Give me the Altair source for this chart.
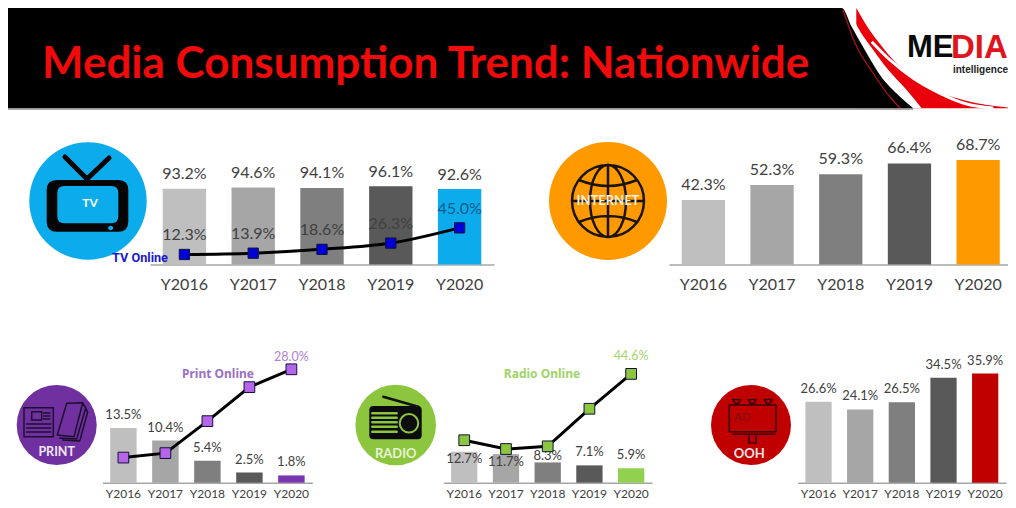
import re
import altair as alt
import pandas as pd

years = ["Y2016", "Y2017", "Y2018", "Y2019", "Y2020"]
greys = ["#BFBFBF", "#A6A6A6", "#7F7F7F", "#595959"]

tv_bar = [93.2, 94.6, 94.1, 96.1, 92.6]
tv_online = [12.3, 13.9, 18.6, 26.3, 45.0]
internet_bar = [42.3, 52.3, 59.3, 66.4, 68.7]
print_bar = [13.5, 10.4, 5.4, 2.5, 1.8]
print_online = [6.2, 7.3, 15.2, 23.6, 28.0]
radio_bar = [12.7, 11.7, 8.3, 7.1, 5.9]
radio_online = [17.4, 13.8, 14.9, 30.3, 44.6]
ooh_bar = [26.6, 24.1, 26.5, 34.5, 35.9]

# header artwork outline
edge_x = [0, 833.7, 843.7, 858.7, 872, 892, 905.3]
edge_y = [0, 0, 18.7, 45.3, 67, 88.7, 100.3]
gap_x = [840.3, 850.3, 865.3, 878.7, 898.7, 913.7]
gap_y = [0, 20.3, 42, 60, 82, 100.3]
red_x = [848.3, 860.3, 872, 887, 915.3, 955.3, 1007]
red_y = [0, 20.3, 36, 54, 77, 92, 100.3]
stripe_x = [863.7, 882, 905.3, 932, 958.7, 985.3]
stripe_y = [33.7, 52, 70.3, 85.3, 96, 100]
thin_x = [835, 847, 865, 882, 892]
thin_y = [2, 35, 65, 89, 100]

FONT = "Lato"
TXT = "#404040"
W, H = 1000, 492
O = (8, 8)


def scale_path(s):
    return re.sub(r"-?\d+\.?\d*", lambda m: f"{float(m.group()) / 50:.4f}", s)


def ellipse(cx, cy, rx, ry):
    kx, ky = rx * 0.5523, ry * 0.5523
    return (f"M {cx - rx} {cy} C {cx - rx} {cy - ky} {cx - kx} {cy - ry} {cx} {cy - ry} "
            f"C {cx + kx} {cy - ry} {cx + rx} {cy - ky} {cx + rx} {cy} "
            f"C {cx + rx} {cy + ky} {cx + kx} {cy + ry} {cx} {cy + ry} "
            f"C {cx - kx} {cy + ry} {cx - rx} {cy + ky} {cx - rx} {cy} Z ")


def rrect(x0, y0, x1, y1, r):
    return (f"M {x0 + r} {y0} L {x1 - r} {y0} Q {x1} {y0} {x1} {y0 + r} L {x1} {y1 - r} "
            f"Q {x1} {y1} {x1 - r} {y1} L {x0 + r} {y1} Q {x0} {y1} {x0} {y1 - r} "
            f"L {x0} {y0 + r} Q {x0} {y0} {x0 + r} {y0} Z ")


one = pd.DataFrame({"a": [1]})


def sym(path, c, fill=None, stroke=None, sw=2):
    kw = dict(shape=scale_path(path), size=10000, opacity=1)
    if fill:
        kw.update(filled=True, fill=fill)
    else:
        kw.update(filled=False, stroke=stroke, strokeWidth=sw, strokeCap="round", strokeJoin="round")
    return alt.Chart(one).mark_point(**kw).encode(x=alt.value(c[0] - O[0]), y=alt.value(c[1] - O[1]))


def disc(c, r, color):
    return alt.Chart(one).mark_circle(size=4 * r * r, color=color, opacity=1).encode(
        x=alt.value(c[0] - O[0]), y=alt.value(c[1] - O[1]))


def txt(s, x, y, size, color, weight="normal", font=FONT, align="center"):
    return alt.Chart(pd.DataFrame({"t": [s]})).mark_text(
        fontSize=size, color=color, fontWeight=weight, font=font, align=align, baseline="middle"
    ).encode(text="t:N", x=alt.value(x - O[0]), y=alt.value(y - O[1]))


def pct(vals):
    return [f"{v:.1f}%" for v in vals]


def panel(bar, accent, x0, x1, base_y, ppu, tick_size, tick_pad, lab_size, extra=(), behind=(), online=None,
          marker=None, msize=110, interp="linear", bar_labels=None, online_labels=()):
    df = pd.DataFrame({"year": years, "bar": bar, "lab": pct(bar)})
    if online is not None:
        df["online"] = online
        df["olab"] = pct(online)
    b = base_y - O[1]
    x = alt.X("year:N", sort=years, title=None,
              scale=alt.Scale(range=[x0 - O[0], x1 - O[0]], paddingInner=0.37, paddingOuter=0.185),
              axis=alt.Axis(orient="bottom", offset=b - H, labelAngle=0, labelFont=FONT, labelFontSize=tick_size,
                            labelColor=TXT, labelPadding=tick_pad, labelBaseline="middle", ticks=False,
                            grid=False, domainColor="#A6A6A6", domainWidth=1.6))
    yscale = alt.Scale(domain=[0, 100], range=[b, b - 100 * ppu], nice=False)
    ybar = alt.Y("bar:Q", title=None, scale=yscale, axis=None, stack=None)
    base = alt.Chart(df)
    bars = base.mark_bar().encode(
        x=x, y=ybar,
        color=alt.Color("year:N", sort=years, legend=None,
                        scale=alt.Scale(domain=years, range=greys + [accent])))
    layers = list(behind) + [bars]
    for ys, dy in (bar_labels or [(years, -14)]):
        layers.append(base.transform_filter(alt.FieldOneOfPredicate(field="year", oneOf=ys))
                      .mark_text(fontSize=lab_size, font=FONT, color=TXT, dy=dy)
                      .encode(x=x, y=ybar, text="lab:N"))
    if online is not None:
        yon = alt.Y("online:Q", title=None, scale=yscale, axis=None)
        layers.append(base.mark_line(color="black", strokeWidth=3, interpolate=interp).encode(x=x, y=yon))
        layers.append(base.mark_square(size=msize, color=marker, stroke="#10103a", strokeWidth=1, opacity=1)
                      .encode(x=x, y=yon))
        for ys, dy, col, size in online_labels:
            layers.append(base.transform_filter(alt.FieldOneOfPredicate(field="year", oneOf=ys))
                          .mark_text(fontSize=size, font=FONT, color=col, dy=dy)
                          .encode(x=x, y=yon, text="olab:N"))
    layers += list(extra)
    return alt.layer(*layers)


# ---------- header ----------
hx = alt.Scale(domain=[0, 1007], range=[0, 1007], nice=False, zero=False)
hy = alt.Scale(domain=[0, 102], range=[0, 102], nice=False, zero=False)


def area(xs, ys, color):
    d = pd.DataFrame({"x": xs, "y": ys, "b": [max(ys)] * len(xs)})
    return alt.Chart(d).mark_area(color=color, interpolate="monotone", orient="vertical").encode(
        x=alt.X("x:Q", scale=hx, axis=None),
        y=alt.Y("y:Q", scale=hy, axis=None), y2="b:Q")


def hline(xs, ys, color, sw):
    d = pd.DataFrame({"x": xs, "y": ys})
    return alt.Chart(d).mark_line(color=color, strokeWidth=sw, interpolate="monotone").encode(
        x=alt.X("x:Q", scale=hx, axis=None), y=alt.Y("y:Q", scale=hy, axis=None))


header = alt.layer(
    area(red_x, red_y, "#E8000B"),
    area(gap_x, gap_y, "#FFFFFF"),
    area(edge_x, edge_y, "#000000"),
    hline(stripe_x, stripe_y, "#FFFFFF", 3),
    hline(thin_x, thin_y, "#B01218", 1.2),
    hline([0, 905], [101, 101], "#8C8C8C", 1.6),
    txt("Media Consumption Trend: Nationwide", 42, 65, 44, "#F00A0A", "bold", "Lato", "left"),
    txt("ME", 907, 48, 31, "#0A0A0A", "bold", "Liberation Sans", "left"),
    txt("DIA", 951, 48, 33, "#E0141C", "bold", "Liberation Sans", "left"),
    txt("intelligence", 1008, 69.5, 10, "#222222", "bold", "Liberation Sans", "right"),
)

# ---------- TV ----------
c = (88, 201)
tv = panel(
    tv_bar, "#0CACEC", 150, 494, 264.5, 0.814, 16, 20, 16,
    behind=[disc(c, 58.7, "#0CACEC"),
            sym(rrect(-41.3, -21, 40.3, 30.7, 10), c, fill="#050505"),
            sym(rrect(-30.7, -15, 30.3, 22.3, 7), c, fill="#0CACEC"),
            sym(ellipse(22.7, 27, 2.5, 2.2), c, fill="#0CACEC"),
            sym("M -1 -22 L -23 -44 M -1 -22 L 21 -43", c, stroke="#050505", sw=5),
            txt("TV", 90, 203, 12, "#FFFFFF", "bold")],
    online=tv_online, marker="#0000D8", msize=105, interp="monotone",
    bar_labels=[(years, -14.5)],
    online_labels=[(years[:4], -19, "#404040", 16), (["Y2020"], -19, "#0A5A8C", 16)],
    extra=[txt("TV Online", 140, 257.5, 12.7, "#1A1AC8", "bold", "Roboto")])

# ---------- Internet ----------
c = (608, 201)
globe = (ellipse(0, 0, 36, 36) + ellipse(0, 0, 18, 36) + "M 0 -36 L 0 36 M -36 0 L 36 0 "
         "M -29 -21 Q 0 -9 29 -21 M -29 21 Q 0 9 29 21")
internet = panel(
    internet_bar, "#FF9900", 669, 1012.5, 264.5, 1.522, 16, 20, 16,
    behind=[disc(c, 59, "#FF9900"),
            sym(globe, c, stroke="#1A1408", sw=2.5),
            txt("INTERNET", 608, 201, 13, "#F6EFE0", "bold")],
    bar_labels=[(years, -15)])

# ---------- Print ----------
c = (56.7, 425)
news = ("M -32.7 -17.3 L -3.4 -17.3 L -3.4 11.7 L -32.7 11.7 Z M -25 -13.3 L -15 -13.3 L -15 -5 L -25 -5 Z "
        "M -13 -12 L -6.7 -12 M -13 -9 L -6.7 -9 M -13 -6 L -6.7 -6 M -30 -1 L -6 -1 M -30 3 L -6 3 M -30 7 L -6 7 ")
book = ("M 0.6 10 L 10 -21.7 L 26 -22.3 L 17.3 11.7 Z M 26 -22 L 29 -17 L 20 14 L 3 13 "
        "M 29 -17 L 31 -13 L 23 16 L 6 15")
prt = panel(
    print_bar, "#7A35B0", 102.4, 312.4, 482.7, 4.05, 12, 10.3, 13,
    behind=[disc(c, 40, "#7030A0"),
            sym(news + book, c, stroke="#1C0F2E", sw=1.5),
            txt("PRINT", 56.7, 452, 12.5, "#EFE6F6", "bold")],
    online=print_online, marker="#B565E8", msize=115,
    bar_labels=[(years, -13)],
    online_labels=[(["Y2020"], -12.5, "#B07FD8", 12.5)],
    extra=[txt("Print Online", 218, 374, 12, "#9B6FC4", "bold", "Noto Sans")])

# ---------- Radio ----------
c = (395.7, 425)
grille = " ".join(f"M -23.4 {y} L 1 {y}" for y in [-11.7, -7.3, -2.7, 1.7, 6.7])
radio = panel(
    radio_bar, "#92D050", 443.4, 652, 482.7, 2.44, 12, 10.3, 13,
    behind=[disc(c, 40.3, "#8CC63F"),
            sym("M -12.4 -28.3 L 22.6 -18.3", c, stroke="#111111", sw=2.5),
            sym(rrect(-26.4, -19, 26, 14.3, 4), c, fill="#0C0C0C"),
            sym(grille, c, stroke="#8CC63F", sw=2.4),
            sym(ellipse(13.3, -1.7, 9.3, 9.3), c, stroke="#8CC63F", sw=2),
            txt("RADIO", 395.7, 454, 13, "#E6F3D4", "bold")],
    online=radio_online, marker="#8CC63F", msize=115,
    bar_labels=[(["Y2016"], 7), (["Y2017"], 8), (["Y2018"], -6), (["Y2019", "Y2020"], -13)],
    online_labels=[(["Y2020"], -18, "#A5D46A", 12.5)],
    extra=[txt("Radio Online", 542, 374, 12, "#A0D468", "bold", "Noto Sans")])

# ---------- OOH ----------
c = (751, 425)
lamps = " ".join(f"M {x - 4} -25.5 L {x + 4} -25.5 L {x + 1.5} -21.5 L {x - 1.5} -21.5 Z M {x} -21.5 L {x} -20"
                 for x in [-14.3, 1.3, 17.3])
board = "M -21.7 -20 L 25 -20 L 25 6.7 L -21.7 6.7 Z M -18 9.3 L 24 9.3 M -2 10 L -2 18 L 5 18 L 5 10 "
ooh = panel(
    ooh_bar, "#C00000", 797.7, 1006, 482.7, 3.04, 12, 10.3, 13,
    behind=[disc(c, 40, "#C00000"),
            sym(board + lamps, c, stroke="#3A0505", sw=1.6),
            txt("AD", 742.3, 416.7, 12, "#7E1010"),
            txt("OOH", 749.3, 454.3, 13, "#F6E6E6", "bold")],
    bar_labels=[(years, -13)])

chart = alt.layer(header, tv, internet, prt, radio, ooh).resolve_scale(
    x="independent", y="independent", color="independent"
).resolve_axis(x="independent", y="independent").properties(
    width=W, height=H, padding=0, background="white",
    autosize=alt.AutoSizeParams(type="none", contains="padding"),
).configure_view(stroke=None)

chart.save("out.html", embed_options={"renderer": "svg", "actions": False})
